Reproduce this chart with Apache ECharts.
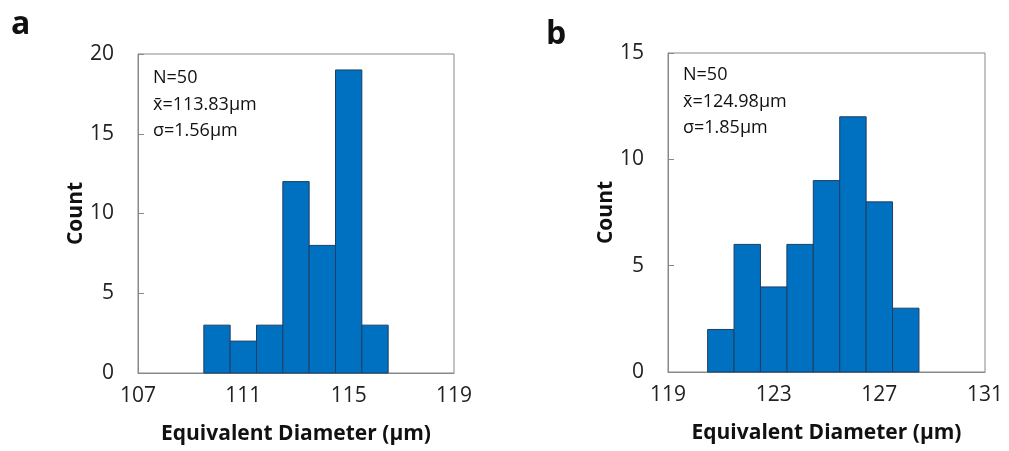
<!DOCTYPE html>
<html>
<head>
<meta charset="utf-8">
<script src="https://cdn.jsdelivr.net/npm/echarts@6/dist/echarts.min.js"></script>
<style>
  html, body { margin: 0; padding: 0; background: #fff; }
  #myChart { width: 1009px; height: 451px; }
</style>
</head>
<body>
<div id="myChart"></div>
<script>
// histogram a
const binsA = [110, 111, 112, 113, 114, 115, 116]
const countsA = [3, 2, 3, 12, 8, 19, 3]
const statsA = ['N=50', 'x̄=113.83µm', 'σ=1.56µm']
// histogram b
const binsB = [121, 122, 123, 124, 125, 126, 127, 128]
const countsB = [2, 6, 4, 6, 9, 12, 8, 3]
const statsB = ['N=50', 'x̄=124.98µm', 'σ=1.85µm']

const font = '"Open Sans", "Noto Sans", sans-serif'
const binWidth = 1

let myChart = echarts.init(document.getElementById('myChart'))

function histItem(params, api) {
    let x = api.value(0), y = api.value(1)
    let p0 = api.coord([x - binWidth / 2, 0])
    let p1 = api.coord([x + binWidth / 2, y])
    return {
        type: 'rect',
        shape: { x: p0[0], y: p1[1], width: p1[0] - p0[0], height: p0[1] - p1[1] },
        style: { fill: '#0070c0', stroke: '#1d3f63', lineWidth: 1 }
    }
}

function xAxisOf(idx, min, max) {
    return {
        type: 'value', gridIndex: idx, min: min, max: max, interval: 4,
        name: 'Equivalent Diameter (µm)', nameLocation: 'middle', nameGap: 51,
        nameTextStyle: { fontFamily: font, fontSize: 21, fontWeight: 'bold', color: '#111' },
        axisLine: { show: true, lineStyle: { color: '#888' } },
        axisTick: { show: false },
        splitLine: { show: false },
        axisLabel: { fontFamily: font, fontSize: 21, color: '#222', margin: 13 }
    }
}

function yAxisOf(idx, max) {
    return {
        type: 'value', gridIndex: idx, min: 0, max: max, interval: 5,
        name: 'Count', nameLocation: 'middle', nameGap: 48,
        nameTextStyle: { fontFamily: font, fontSize: 21, fontWeight: 'bold', color: '#111' },
        axisLine: { show: true, lineStyle: { color: '#888' } },
        axisTick: { show: true, inside: true, length: 6, lineStyle: { color: '#888' } },
        splitLine: { show: false },
        axisLabel: { fontFamily: font, fontSize: 21, color: '#222', margin: 24 }
    }
}

var option = {
    animation: false,
    grid: [
        { left: 138, right: 555, top: 54, bottom: 78, show: true, borderColor: '#888', borderWidth: 1 },
        { left: 668, right: 24, top: 53, bottom: 79, show: true, borderColor: '#888', borderWidth: 1 }
    ],
    xAxis: [xAxisOf(0, 107, 119), xAxisOf(1, 119, 131)],
    yAxis: [yAxisOf(0, 20), yAxisOf(1, 15)],
    graphic: [
        { type: 'text', left: 11, top: 9, style: { text: 'a', fontFamily: font, fontSize: 32, fontWeight: 'bold', fill: '#111' } },
        { type: 'text', left: 546, top: 19, style: { text: 'b', fontFamily: font, fontSize: 32, fontWeight: 'bold', fill: '#111' } },
        { type: 'text', left: 153, top: 65, style: { text: statsA.join('\n'), fontFamily: font, fontSize: 18, lineHeight: 26.5, fill: '#111' } },
        { type: 'text', left: 683, top: 62, style: { text: statsB.join('\n'), fontFamily: font, fontSize: 18, lineHeight: 26.5, fill: '#111' } }
    ],
    series: [
        { type: 'custom', xAxisIndex: 0, yAxisIndex: 0, renderItem: histItem,
          data: binsA.map((b, i) => [b, countsA[i]]) },
        { type: 'custom', xAxisIndex: 1, yAxisIndex: 1, renderItem: histItem,
          data: binsB.map((b, i) => [b, countsB[i]]) }
    ]
}
window.onresize = myChart.resize
myChart.setOption(option)
</script>
</body>
</html>
